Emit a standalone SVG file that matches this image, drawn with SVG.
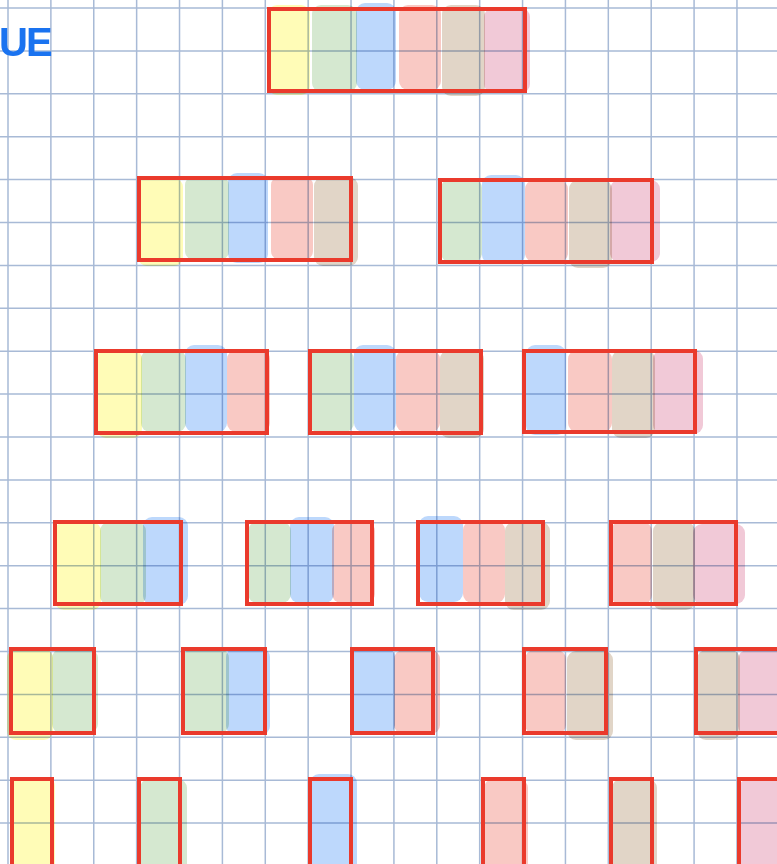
<svg xmlns="http://www.w3.org/2000/svg" width="777" height="864" viewBox="0 0 777 864">
<style>
.grid{fill:none;stroke:#a8bad6;stroke-width:1.5}
.blk rect{rx:9px;ry:9px;mix-blend-mode:multiply}
.y{fill:#fffcb7}.g{fill:#d5e8d0}.b{fill:#bdd8fc}.s{fill:#f9c9c4}.t{fill:#e1d5c7}.p{fill:#f1c9d7}
.blk rect.box{fill:none;stroke:#ea3a2c;stroke-width:4;rx:0;ry:0;mix-blend-mode:normal}
.lbl{font-family:"Liberation Sans",Arial,sans-serif;font-weight:bold;font-size:40px;letter-spacing:-2px;fill:#1a73f0}
</style>
<rect width="777" height="864" fill="#ffffff"/>
<path class="grid" d="M8 0V864M50.88 0V864M93.76 0V864M136.64 0V864M179.52 0V864M222.4 0V864M265.28 0V864M308.16 0V864M351.04 0V864M393.92 0V864M436.8 0V864M479.68 0V864M522.56 0V864M565.44 0V864M608.32 0V864M651.2 0V864M694.08 0V864M736.96 0V864M0 8H777M0 50.9H777M0 93.8H777M0 136.7H777M0 179.6H777M0 222.5H777M0 265.4H777M0 308.3H777M0 351.2H777M0 394.1H777M0 437H777M0 479.9H777M0 522.8H777M0 565.7H777M0 608.6H777M0 651.5H777M0 694.4H777M0 737.3H777M0 780.2H777M0 823.1H777"/>
<text class="lbl" x="-1" y="56">UE</text>

<g id="box-r1" class="blk">
<rect class="y" x="268" y="5" width="42" height="90"/><rect class="g" x="312" y="5" width="45" height="87"/><rect class="b" x="356" y="3" width="40" height="87"/><rect class="s" x="399" y="5" width="42" height="85"/><rect class="t" x="442" y="5" width="43" height="91"/><rect class="p" x="484" y="8" width="46" height="85"/>
<rect class="box" x="269" y="9" width="256" height="82"/>
</g>

<g id="box-r2a" class="blk">
<rect class="y" x="138" y="178" width="45" height="88"/><rect class="g" x="185" y="176" width="44" height="84"/><rect class="b" x="228" y="173" width="40" height="90"/><rect class="s" x="271" y="176" width="42" height="84"/><rect class="t" x="314" y="177" width="44" height="89"/>
<rect class="box" x="139" y="178" width="212" height="82"/>
</g>
<g id="box-r2b" class="blk">
<rect class="g" x="441" y="179" width="41" height="83"/><rect class="b" x="482" y="175" width="43" height="89"/><rect class="s" x="525" y="180" width="43" height="82"/><rect class="t" x="569" y="180" width="43" height="88"/><rect class="p" x="610" y="180" width="50" height="82"/>
<rect class="box" x="440" y="180" width="212" height="82"/>
</g>

<g id="box-r3a" class="blk">
<rect class="y" x="97" y="350" width="45" height="88"/><rect class="g" x="141" y="350" width="45" height="82"/><rect class="b" x="185" y="345" width="42" height="87"/><rect class="s" x="227" y="350" width="43" height="82"/>
<rect class="box" x="96" y="351" width="171" height="82"/>
</g>
<g id="box-r3b" class="blk">
<rect class="g" x="309" y="350" width="45" height="82"/><rect class="b" x="354" y="345" width="42" height="87"/><rect class="s" x="396" y="350" width="44" height="82"/><rect class="t" x="440" y="350" width="44" height="88"/>
<rect class="box" x="310" y="351" width="171" height="82"/>
</g>
<g id="box-r3c" class="blk">
<rect class="b" x="526" y="345" width="40" height="90"/><rect class="s" x="568" y="350" width="44" height="82"/><rect class="t" x="612" y="350" width="43" height="88"/><rect class="p" x="653" y="350" width="50" height="84"/>
<rect class="box" x="524" y="351" width="171" height="81"/>
</g>

<g id="box-r4a" class="blk">
<rect class="y" x="55" y="522" width="46" height="88"/><rect class="g" x="100" y="522" width="46" height="83"/><rect class="b" x="143" y="517" width="45" height="88"/>
<rect class="box" x="55" y="522" width="126" height="82"/>
</g>
<g id="box-r4b" class="blk">
<rect class="g" x="248" y="522" width="43" height="81"/><rect class="b" x="290" y="517" width="44" height="86"/><rect class="s" x="332" y="522" width="43" height="81"/>
<rect class="box" x="247" y="522" width="125" height="82"/>
</g>
<g id="box-r4c" class="blk">
<rect class="b" x="419" y="516" width="44" height="86"/><rect class="s" x="463" y="521" width="42" height="82"/><rect class="t" x="505" y="522" width="45" height="88"/>
<rect class="box" x="418" y="522" width="125" height="82"/>
</g>
<g id="box-r4d" class="blk">
<rect class="s" x="611" y="522" width="41" height="82"/><rect class="t" x="653" y="522" width="42" height="88"/><rect class="p" x="693" y="524" width="52" height="80"/>
<rect class="box" x="611" y="522" width="125" height="82"/>
</g>

<g id="box-r5a" class="blk">
<rect class="y" x="7" y="649" width="46" height="91"/><rect class="g" x="52" y="649" width="46" height="84"/>
<rect class="box" x="11" y="649" width="83" height="84"/>
</g>
<g id="box-r5b" class="blk">
<rect class="g" x="183" y="649" width="46" height="84"/><rect class="b" x="226" y="648" width="44" height="87"/>
<rect class="box" x="183" y="649" width="82" height="84"/>
</g>
<g id="box-r5c" class="blk">
<rect class="b" x="352" y="648" width="43" height="86"/><rect class="s" x="394" y="650" width="46" height="84"/>
<rect class="box" x="352" y="649" width="81" height="84"/>
</g>
<g id="box-r5d" class="blk">
<rect class="s" x="525" y="650" width="41" height="84"/><rect class="t" x="567" y="651" width="46" height="89"/>
<rect class="box" x="524" y="649" width="82" height="84"/>
</g>
<g id="box-r5e" class="blk">
<rect class="t" x="697" y="650" width="43" height="90"/><rect class="p" x="738" y="650" width="45" height="85"/>
<rect class="box" x="696" y="649" width="84" height="84"/>
</g>

<g id="box-r6a" class="blk"><rect class="y" x="10" y="777" width="45" height="100"/><rect class="box" x="12" y="779" width="40" height="100"/></g>
<g id="box-r6b" class="blk"><rect class="g" x="140" y="779" width="47" height="100"/><rect class="box" x="139" y="779" width="41" height="100"/></g>
<g id="box-r6c" class="blk"><rect class="b" x="310" y="774" width="47" height="100"/><rect class="box" x="310" y="779" width="41" height="100"/></g>
<g id="box-r6d" class="blk"><rect class="s" x="484" y="779" width="44" height="100"/><rect class="box" x="483" y="779" width="41" height="100"/></g>
<g id="box-r6e" class="blk"><rect class="t" x="612" y="779" width="45" height="100"/><rect class="box" x="611" y="779" width="41" height="100"/></g>
<g id="box-r6f" class="blk"><rect class="p" x="739" y="779" width="50" height="100"/><rect class="box" x="739" y="779" width="41" height="100"/></g>
<g id="connectors"/>
</svg>
